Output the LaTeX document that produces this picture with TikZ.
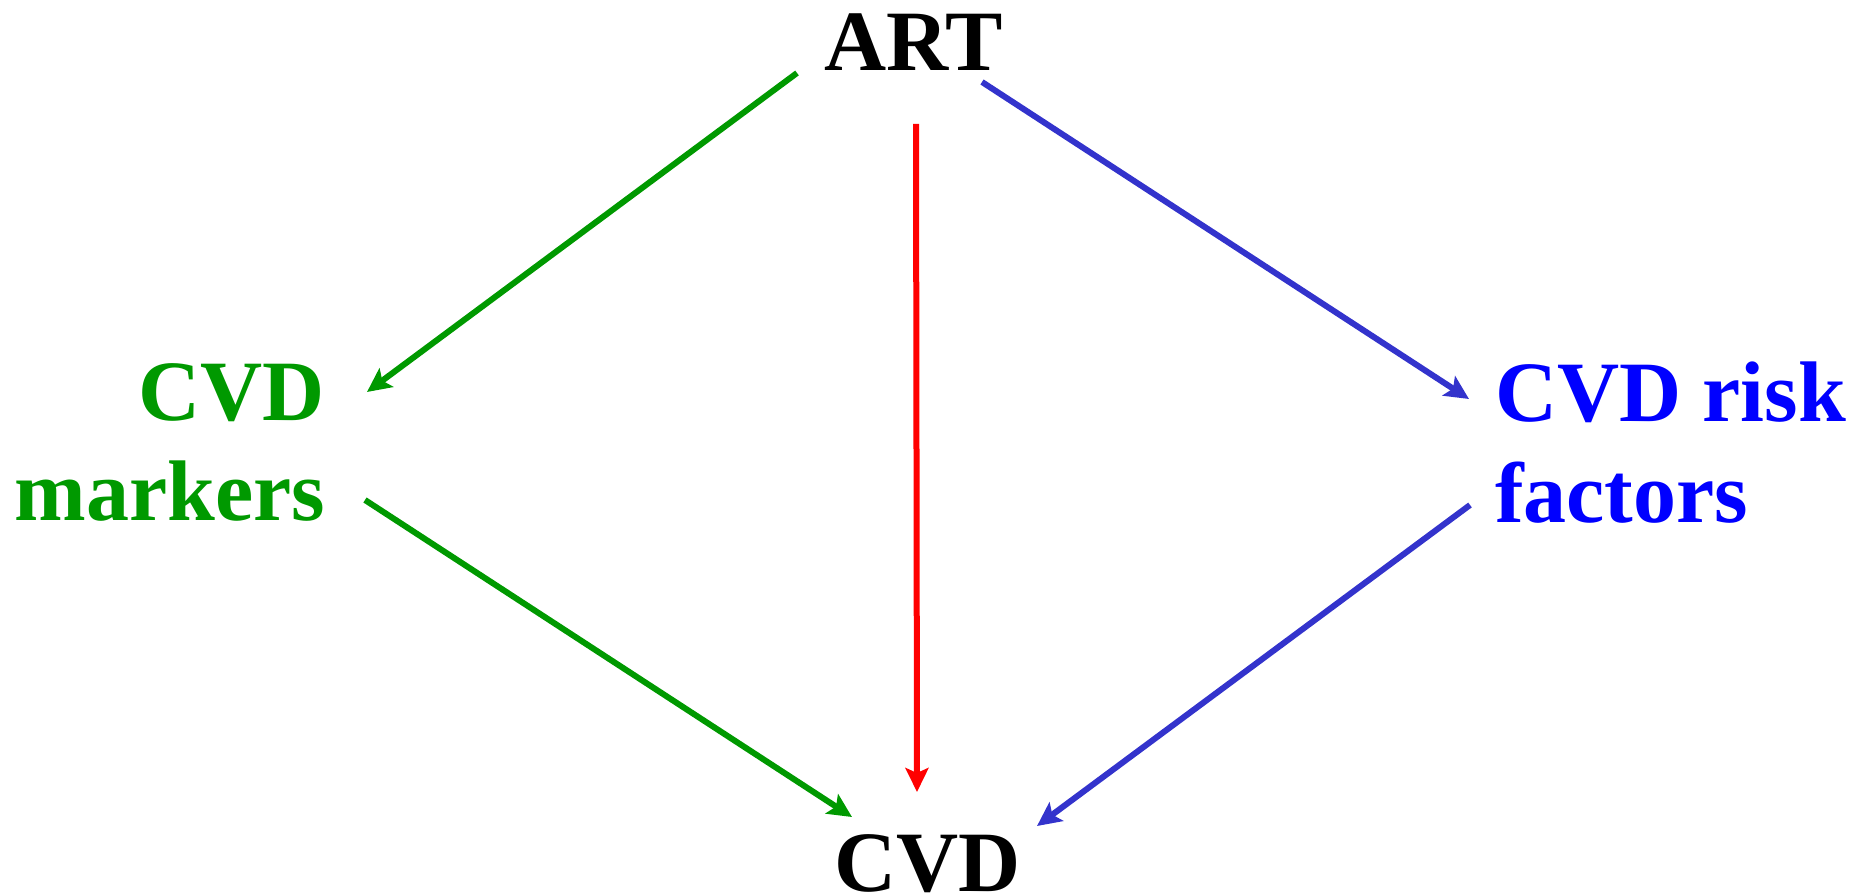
\documentclass[tikz,border=0pt]{standalone}
\usepackage{fontspec}
\setmainfont{Liberation Serif}
\usepackage{tikz}
\usetikzlibrary{positioning, arrows.meta, calc}
\definecolor{cMark}{HTML}{009900}
\definecolor{cRisk}{HTML}{0000FF}
\definecolor{cRiskLn}{HTML}{3333CC}
\definecolor{cDirect}{HTML}{FF0000}
\tikzset{
  lbl/.style={
    inner sep=0pt, outer sep=0pt,
    font=\fontsize{86}{100}\selectfont\bfseries
  },
  link/.style={
    -{Stealth[length=24pt, width=23pt, inset=5pt]},
    line width=6pt, color=#1
  },
}
\begin{document}
\begin{tikzpicture}[x=1pt, y=1pt]
  \useasboundingbox (0,0) rectangle (1862,895);

  \node[lbl, anchor=base] (art) at (913.5,824) {ART};
  \node[lbl, anchor=base] (cvd) at (927.5,4) {CVD};
  \node[lbl, text=cMark, align=right, anchor=base east] (markers) at (325,374) {CVD\\\rule{0pt}{96pt}markers};
  \node[lbl, text=cRisk, align=left, anchor=base west] (risk) at (1495,372) {CVD risk\\\rule{0pt}{99pt}factors};

  \draw[link=cMark]   ($(art.base)+(-116.5,-2)$)  -- ($(markers.base east)+(42,129)$);
  \draw[link=cRiskLn] ($(art.base)+(68.5,-11)$)   -- ($(risk.base west)+(-26,124)$);
  \draw[link=cDirect] ($(art.base)+(2.5,-53)$)    -- ($(cvd.base)+(-10.5,99)$);
  \draw[link=cMark]   ($(markers.base east)+(40,21)$) -- ($(cvd.base)+(-75.5,74)$);
  \draw[link=cRiskLn] ($(risk.base west)+(-25,18)$)   -- ($(cvd.base)+(109.5,65)$);

\end{tikzpicture}
\end{document}
